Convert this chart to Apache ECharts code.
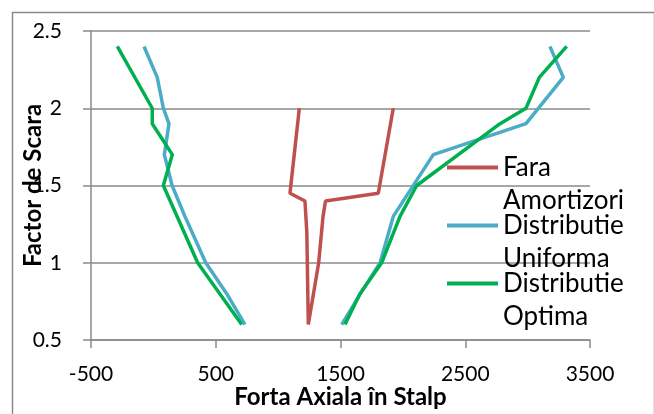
<!DOCTYPE html>
<html>
<head>
<meta charset="utf-8">
<script src="https://cdn.jsdelivr.net/npm/echarts@6/dist/echarts.min.js"></script>
<style>
html,body{margin:0;padding:0;background:#fff;}
#chart{width:654px;height:414px;}
</style>
</head>
<body>
<div id="chart"></div>
<script>
// ---- data (force, scale factor) ----
const seriesNames = ['Fara Amortizori', 'Distributie Uniforma', 'Distributie Optima'];
const xTicks = [-500, 500, 1500, 2500, 3500];
const yTicks = [0.5, 1, 1.5, 2, 2.5];

const faraForce  = [1170, 1095, 1215, 1230, 1242, 1325, 1360, 1380, 1803, 1923];
const faraFactor = [2.0, 1.45, 1.4, 1.2, 0.6, 1.0, 1.3, 1.4, 1.45, 2.0];

const uniformLeftForce  = [-75, 31, 80, 125, 88, 150, 253, 420, 588, 734];
const uniformLeftFactor = [2.4, 2.2, 2.0, 1.9, 1.7, 1.5, 1.3, 1.0, 0.8, 0.6];
const uniformRightForce  = [1509, 1660, 1817, 1923, 2244, 2987, 3286, 3179];
const uniformRightFactor = [0.6, 0.8, 1.0, 1.3, 1.7, 1.9, 2.2, 2.4];

const optimaLeftForce  = [-289, -9, -9, 152, 80, 355, 708];
const optimaLeftFactor = [2.4, 2.0, 1.9, 1.7, 1.5, 1.0, 0.6];
const optimaRightForce  = [1536, 1656, 1830, 1977, 2111, 2779, 2987, 3094, 3313];
const optimaRightFactor = [0.6, 0.8, 1.0, 1.3, 1.5, 1.9, 2.0, 2.2, 2.4];

const colors = ['#C0504D', '#4BACC6', '#00B050'];

function pairs(xs, ys) { return xs.map((x, i) => [x, ys[i]]); }
function lineSeries(name, color, data) {
  return {
    name: name, type: 'line', data: data, symbol: 'none', showSymbol: false,
    lineStyle: { color: color, width: 3.5 }, itemStyle: { color: color },
    silent: true, animation: false, z: 2
  };
}

const chart = echarts.init(document.getElementById('chart'), null, { renderer: 'canvas' });
const gray = '#8a8a8a';
const font = 'Lato, "Open Sans", sans-serif';

chart.setOption({
  animation: false,
  backgroundColor: '#ffffff',
  grid: { left: 91, right: 64, top: 31, bottom: 72, containLabel: false },
  graphic: [{
    type: 'rect', left: 10, top: 10, silent: true,
    shape: { width: 642, height: 430 },
    style: { fill: 'none', stroke: gray, lineWidth: 1.5 }
  }],
  xAxis: {
    type: 'value', min: -500, max: 3500, interval: 1000,
    name: 'Forta Axiala în Stalp', nameLocation: 'middle', nameGap: 45, nameMoveOverlap: false,
    nameTextStyle: { fontFamily: font, fontWeight: 'bold', fontSize: 24, color: '#000' },
    axisLine: { show: true, onZero: false, lineStyle: { color: gray, width: 1.5 } },
    axisTick: { show: true, length: 8, customValues: xTicks, lineStyle: { color: gray, width: 1.5 } },
    axisLabel: { customValues: xTicks, formatter: v => String(v), fontFamily: font, fontSize: 21, color: '#000', margin: 24 },
    splitLine: { show: false }
  },
  yAxis: {
    type: 'value', min: 0.5, max: 2.5, interval: 0.5,
    name: 'Factor de Scara', nameLocation: 'middle', nameGap: 46, nameMoveOverlap: false,
    nameTextStyle: { fontFamily: font, fontWeight: 'bold', fontSize: 24, color: '#000' },
    axisLine: { show: true, onZero: false, lineStyle: { color: gray, width: 1.5 } },
    axisTick: { show: true, length: 8, lineStyle: { color: gray, width: 1.5 } },
    axisLabel: { formatter: v => String(v), fontFamily: font, fontSize: 21, color: '#000', margin: 29 },
    splitLine: { show: true, lineStyle: { color: gray, width: 1.5 } }
  },
  legend: {
    data: seriesNames,
    orient: 'vertical', left: 442, top: 113,
    icon: 'rect', itemWidth: 51, itemHeight: 4, itemGap: -41,
    formatter: n => '\n' + n.replace(' ', '\n'),
    textStyle: { fontFamily: font, fontSize: 26, color: '#000', lineHeight: 33 },
    selectedMode: false
  },
  series: [
    lineSeries(seriesNames[0], colors[0], pairs(faraForce, faraFactor)),
    lineSeries(seriesNames[1], colors[1], pairs(uniformLeftForce, uniformLeftFactor)),
    lineSeries(seriesNames[1], colors[1], pairs(uniformRightForce, uniformRightFactor)),
    lineSeries(seriesNames[2], colors[2], pairs(optimaLeftForce, optimaLeftFactor)),
    lineSeries(seriesNames[2], colors[2], pairs(optimaRightForce, optimaRightFactor))
  ]
});
</script>
</body>
</html>
